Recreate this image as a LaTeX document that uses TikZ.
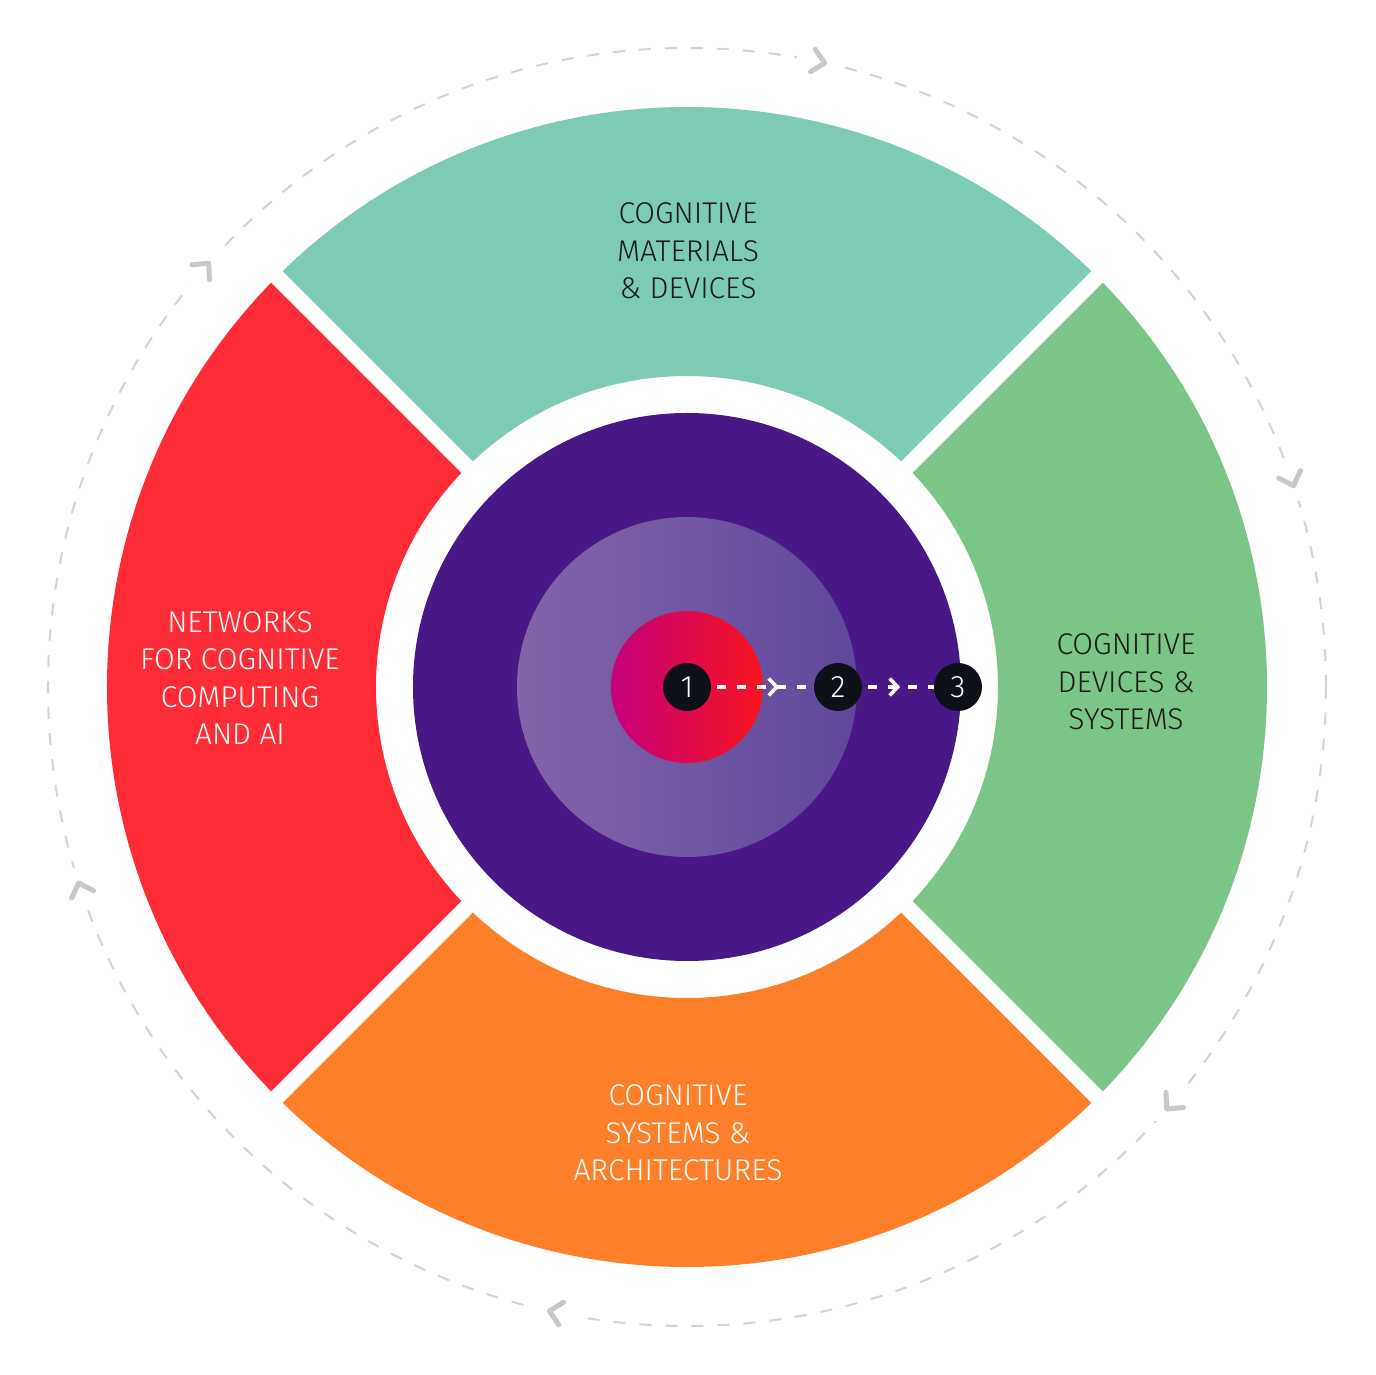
\documentclass[tikz,border=0pt]{standalone}
\usepackage{fontspec}
\setmainfont{Fira Sans}[UprightFont={* Light}]
\usetikzlibrary{arrows.meta,decorations.markings}
\definecolor{cteal}{HTML}{7ECBB5}
\definecolor{cgreen}{HTML}{7BC687}
\definecolor{cred}{HTML}{FD2C36}
\definecolor{corange}{HTML}{FD7F2A}
\definecolor{cpurple}{HTML}{481886}
\definecolor{clavL}{HTML}{8264AA}
\definecolor{clavR}{HTML}{5F489C}
\definecolor{cmag}{HTML}{C4007C}
\definecolor{cscarlet}{HTML}{F8141E}
\definecolor{cnum}{HTML}{0D1117}
\definecolor{cdash}{HTML}{D4D4D4}
\definecolor{cchev}{HTML}{C8C8C8}
\definecolor{cdark}{HTML}{1A1A1A}
\tikzset{
  lbl/.style={align=center,font=\fontsize{30}{37.5}\selectfont,inner sep=0pt},
  numc/.style={circle,fill=cnum,minimum size=48pt,inner sep=0pt,text=white,font=\fontsize{31}{31}\selectfont},
  gapline/.style={white,line width=16pt},
  flow/.style={white,line width=3.2pt,dash pattern=on 9pt off 11pt,shorten <=6pt},
  chevmark/.style={postaction={decorate,decoration={markings,mark=at position #1 with {\arrow{Straight Barb[length=8pt,width=17pt,line width=3.6pt]}}}}},
  outchev/.style={cchev,line width=5pt,line cap=round,line join=round},
}
\begin{document}
\begin{tikzpicture}[x=1pt,y=1pt]
\useasboundingbox (-687,-688) rectangle (689,687);
\fill[white] (-687,-688) rectangle (689,687);
% outer dashed circle
\draw[cdash,line width=2pt,dash pattern=on 12pt off 14pt] (0,0) circle (639);
\foreach \a in {78.1,139,18.9,-40.8,-101.9,198.4}{
  \fill[white] (\a:639) circle (22);
  \begin{scope}[shift={(\a:639)},rotate=\a-90]
    \draw[outchev] (-6,11.5) -- (6,0) -- (-6,-11.5);
  \end{scope}
}
% sectors
\fill[cteal] (45:311) arc[start angle=45,end angle=135,radius=311] -- (135:580) arc[start angle=135,end angle=45,radius=580] -- cycle;
\fill[cred] (135:311) arc[start angle=135,end angle=225,radius=311] -- (225:580) arc[start angle=225,end angle=135,radius=580] -- cycle;
\fill[corange] (225:311) arc[start angle=225,end angle=315,radius=311] -- (315:580) arc[start angle=315,end angle=225,radius=580] -- cycle;
\fill[cgreen] (-45:311) arc[start angle=-45,end angle=45,radius=311] -- (45:580) arc[start angle=45,end angle=-45,radius=580] -- cycle;
\foreach \a in {45,135,225,315}{
  \draw[gapline] (\a:300) -- (\a:600);
}
% core circles
\fill[cpurple] (0,0) circle (274);
\shade[left color=clavL,right color=clavR] (0,0) circle (170);
\shade[left color=cmag,right color=cscarlet] (0,0) circle (76);
% labels
\node[lbl,text=cdark] (mat) at (1,436) {COGNITIVE\\MATERIALS\\\&{} DEVICES};
\node[lbl,text=white] (net) at (-447,9) {NETWORKS\\FOR COGNITIVE\\COMPUTING\\AND AI};
\node[lbl,text=cdark] (dev) at (439,5) {COGNITIVE\\DEVICES \&\\SYSTEMS};
\node[lbl,text=white] (sys) at (-9,-446) {COGNITIVE\\SYSTEMS \&\\ARCHITECTURES};
% numbers
\node[numc] (n1) at (0,0) {1};
\node[numc] (n2) at (151,0) {2};
\node[numc] (n3) at (271,0) {3};
\draw[flow,chevmark=68pt] (n1) -- (n2);
\draw[flow,chevmark=38pt] (n2) -- (n3);
\end{tikzpicture}
\end{document}
